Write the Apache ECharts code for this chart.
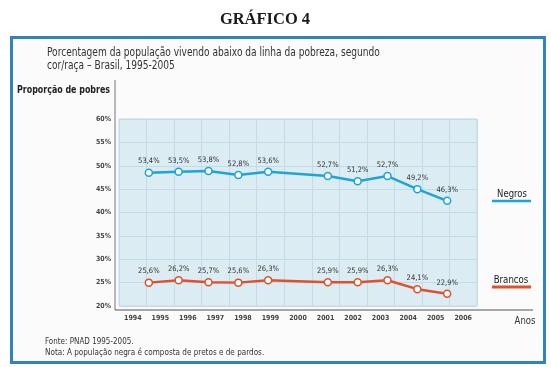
<!DOCTYPE html>
<html>
<head>
<meta charset="utf-8">
<script src="https://cdn.jsdelivr.net/npm/echarts@6/dist/echarts.min.js"></script>
<style>
html,body{margin:0;padding:0;background:#fff;}
#c{width:551px;height:367px;}
</style>
</head>
<body>
<div id="c"></div>
<script>
// Category tick labels of the x axis
var xCats = ['1994','1995','1996','1997','1998','1999','2000','2001','2002','2003','2004','2005','2006'];
// Survey years that have data (no PNAD in 2000)
var years = [1995, 1996, 1997, 1998, 1999, 2001, 2002, 2003, 2004, 2005];
// Plotted heights as drawn in the picture (%)
var negrosPlotted = [48.5, 48.7, 48.9, 48.0, 48.7, 47.8, 46.7, 47.8, 45.0, 42.5];
var brancosPlotted = [25.0, 25.5, 25.1, 25.0, 25.5, 25.1, 25.1, 25.5, 23.6, 22.6];
// Printed value labels
var negrosLabels = ['53,4%','53,5%','53,8%','52,8%','53,6%','52,7%','51,2%','52,7%','49,2%','46,3%'];
var brancosLabels = ['25,6%','26,2%','25,7%','25,6%','26,3%','25,9%','25,9%','26,3%','24,1%','22,9%'];
// Y tick range
var yMin = 20, yMax = 60, yStep = 5;

var NARROW = '"Liberation Sans Narrow", "DejaVu Sans Condensed", sans-serif';
var BLUE = '#1ea4d5', RED = '#e0502c', GRID = '#c2dbe6';

function pairs(ys){ return years.map(function(y,i){ return [y, ys[i]]; }); }

function mkSeries(name, vals, labels, color){
  return {
    name: name, type: 'line', xAxisIndex: 1, yAxisIndex: 0,
    data: pairs(vals),
    symbol: 'circle', symbolSize: 7,
    itemStyle: { color: '#fff', borderColor: color, borderWidth: 1.5 },
    lineStyle: { color: color, width: 2.5 },
    label: {
      show: true, position: 'top', distance: 3,
      formatter: function(p){ return labels[p.dataIndex]; },
      fontFamily: NARROW, fontSize: 7.5, color: '#333'
    },
    z: 5
  };
}

function txt(x, y, s, font, align, sx, fill){
  return { type: 'text', x: x, y: y, scaleX: sx || 1,
    style: { text: s, textAlign: align || 'left', textVerticalAlign: 'middle', font: font, fill: fill || '#333' } };
}

var chart = echarts.init(document.getElementById('c'), null, {renderer:'canvas'});
chart.setOption({
  backgroundColor: '#ffffff',
  animation: false,
  grid: { left: 119, right: 74, top: 119, bottom: 61, show: true,
          backgroundColor: '#dcecf3', borderColor: GRID, borderWidth: 1 },
  xAxis: [{
    type: 'category', data: xCats, boundaryGap: true, position: 'bottom',
    axisLine: { show: false }, axisTick: { show: false },
    axisLabel: { margin: 9, fontFamily: NARROW, fontWeight: 'bold', fontSize: 7, color: '#444' },
    splitLine: { show: true, lineStyle: { color: GRID, width: 1 } }
  },{
    type: 'value', min: 1994, max: 2006, show: false
  }],
  yAxis: [{
    type: 'value', min: yMin, max: yMax, interval: yStep,
    axisLine: { show: false }, axisTick: { show: false },
    axisLabel: { formatter: '{value}%', margin: 8, padding: [0,0,5,0],
                 fontFamily: NARROW, fontWeight: 'bold', fontSize: 7, color: '#444' },
    splitLine: { show: true, lineStyle: { color: GRID, width: 1 } }
  }],
  series: [
    mkSeries('Negros', negrosPlotted, negrosLabels, BLUE),
    mkSeries('Brancos', brancosPlotted, brancosLabels, RED)
  ],
  graphic: [
    { type: 'rect', z: -10, shape: { x: 11.5, y: 37.5, width: 533, height: 325 },
      style: { fill: '#fbfbfb', stroke: '#2f84be', lineWidth: 3 } },
    txt(265, 20, 'GRÁFICO 4', 'bold 17px "Liberation Serif", serif', 'center', 0.97, '#1a1a1a'),
    txt(47, 53, 'Porcentagem da população vivendo abaixo da linha da pobreza, segundo', '12px ' + NARROW, 'left', 0.84),
    txt(47, 66, 'cor/raça – Brasil, 1995-2005', '12px ' + NARROW, 'left', 0.84),
    txt(110, 90, 'Proporção de pobres', 'bold 10px ' + NARROW, 'right', 0.88, '#222'),
    { type: 'line', shape: { x1: 115, y1: 80, x2: 115, y2: 310 }, style: { stroke: '#777', lineWidth: 1 } },
    { type: 'line', shape: { x1: 115, y1: 310, x2: 533, y2: 310 }, style: { stroke: '#555', lineWidth: 1 } },
    txt(525, 321, 'Anos', '10.5px ' + NARROW, 'center', 0.9),
    txt(512, 194, 'Negros', '11px ' + NARROW, 'center', 0.86, '#222'),
    { type: 'line', shape: { x1: 492, y1: 201, x2: 531, y2: 201 }, style: { stroke: BLUE, lineWidth: 2.5 } },
    txt(511, 280, 'Brancos', '11px ' + NARROW, 'center', 0.87, '#222'),
    { type: 'line', shape: { x1: 492, y1: 287, x2: 531, y2: 287 }, style: { stroke: RED, lineWidth: 3 } },
    txt(45, 342, 'Fonte: PNAD 1995-2005.', '9.5px ' + NARROW, 'left', 0.84),
    txt(45, 353, 'Nota: A população negra é composta de pretos e de pardos.', '9.5px ' + NARROW, 'left', 0.85)
  ]
});
</script>
</body>
</html>
